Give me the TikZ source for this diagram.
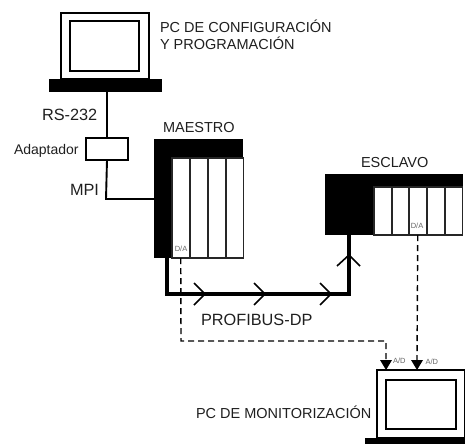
\documentclass[tikz,border=0pt]{standalone}
\usepackage{fontspec}
\setmainfont{Liberation Sans}
\tikzset{
  lbl/.style={inner sep=0pt,outer sep=0pt,font=\fontsize{14.5}{16}\selectfont,text=black!88},
  biglbl/.style={inner sep=0pt,outer sep=0pt,font=\fontsize{16.3}{18}\selectfont,text=black!88},
  tiny/.style={inner sep=0pt,outer sep=0pt,font=\fontsize{7.5}{8}\selectfont,text=black!60},
  blk/.style={fill=black,draw=none,inner sep=0pt,outer sep=0pt},
  wbox/.style={fill=white,draw=black,line width=1.4pt,inner sep=0pt,outer sep=0pt},
  slot/.style={fill=white,draw=black!85,line width=1.3pt,inner sep=0pt,outer sep=0pt,minimum width=17.5pt},
  wire/.style={line width=1.9pt,black},
  bus/.style={line width=4pt,black,line join=miter},
  chev/.style={line width=1.6pt,black},
  dashline/.style={line width=1.4pt,black,dash pattern=on 6pt off 4pt}
}
\begin{document}
\begin{tikzpicture}[x=1pt,y=-1pt]
\useasboundingbox (0,0) rectangle (465,444);
% top PC
\node[wbox,minimum width=88pt,minimum height=66pt,anchor=north west] (pc1) at (61,13) {};
\node[wbox,minimum width=69pt,minimum height=50pt,anchor=north west] (pc1s) at (70,21) {};
\node[blk,minimum width=113pt,minimum height=13pt,anchor=north west] (pc1b) at (49,79) {};
% adapter
\node[wbox,minimum width=42pt,minimum height=22pt,anchor=north west] (adap) at (86,138) {};
% master
\node[blk,minimum width=89pt,minimum height=20pt,anchor=north west] (mtop) at (154,139) {};
\node[blk,minimum width=18pt,minimum height=119pt,anchor=north west] (mcol) at (154,139) {};
\foreach \i/\x in {1/172,2/190,3/208,4/226}
  \node[slot,minimum height=100pt,anchor=north west] (ms\i) at (\x,158) {};
% slave
\node[blk,minimum width=138pt,minimum height=61pt,anchor=north west] (stop) at (325,174) {};
\foreach \i/\x in {1/374,2/392,3/409,4/427,5/445}
  \node[slot,minimum height=48pt,anchor=north west] (ss\i) at (\x,187) {};
% bottom PC
\node[wbox,minimum width=88pt,minimum height=68pt,anchor=north west] (pc2) at (377,370) {};
\node[wbox,minimum width=70pt,minimum height=49pt,anchor=north west] (pc2s) at (386,380) {};
\node[blk,minimum width=100pt,minimum height=6pt,anchor=north west] (pc2b) at (365,438) {};
% serial wires
\coordinate (c1) at (106,199);
\draw[wire] (pc1b.south -| adap.north) -- (adap.north);
\draw[wire] (adap.south) -- (c1) -- (c1 -| mcol.west);
% bus
\coordinate (b0) at (167,258);
\coordinate (b1) at (167,294);
\coordinate (b2) at (349,294);
\coordinate (b3) at (349,235);
\draw[bus] (b0) -- (b1) -- (b2) -- (b3);
\foreach \x in {205,265,331}
  \draw[chev] (\x-11,283) -- (\x,294) -- (\x-11,305);
\draw[chev] (337,266) -- (349,255) -- (360,266);
% dashed signal lines
\coordinate (d1) at (181,341);
\coordinate (d2) at (386,341);
\coordinate (t1) at (386,370);
\coordinate (t2) at (417,370);
\coordinate (e1) at (386,361);
\coordinate (e2) at (417,361);
\draw[dashline] (ms1.south) -- (d1) -- (d2) -- (e1);
\draw[dashline] (ss3.south) -- (e2);
\fill[black] (380,360) -- (392,360) -- (t1) -- cycle;
\fill[black] (411,360) -- (423,360) -- (t2) -- cycle;
% labels
\node[lbl,anchor=west] (l1) at (160,26.5) {PC DE CONFIGURACIÓN};
\node[lbl,anchor=west] (l2) at (160,43.5) {Y PROGRAMACIÓN};
\node[biglbl,anchor=west] (l3) at (42,115) {RS-232};
\node[lbl,anchor=west,font=\fontsize{14}{16}\selectfont] (l4) at (14,151) {Adaptador};
\node[biglbl,anchor=west] (l5) at (70,190) {MPI};
\node[lbl,anchor=west] (l6) at (163,127.5) {MAESTRO};
\node[lbl,anchor=west] (l7) at (361,163) {ESCLAVO};
\node[biglbl,anchor=west] (l8) at (201,320) {PROFIBUS-DP};
\node[lbl,anchor=west] (l9) at (196,412) {PC DE MONITORIZACIÓN};
\node[tiny] (da1) at (181,249) {D/A};
\node[tiny] (da2) at (417,226) {D/A};
\node[tiny,anchor=west] (ad1) at (393,361) {A/D};
\node[tiny,anchor=west] (ad2) at (425.5,361.5) {A/D};
\end{tikzpicture}
\end{document}
